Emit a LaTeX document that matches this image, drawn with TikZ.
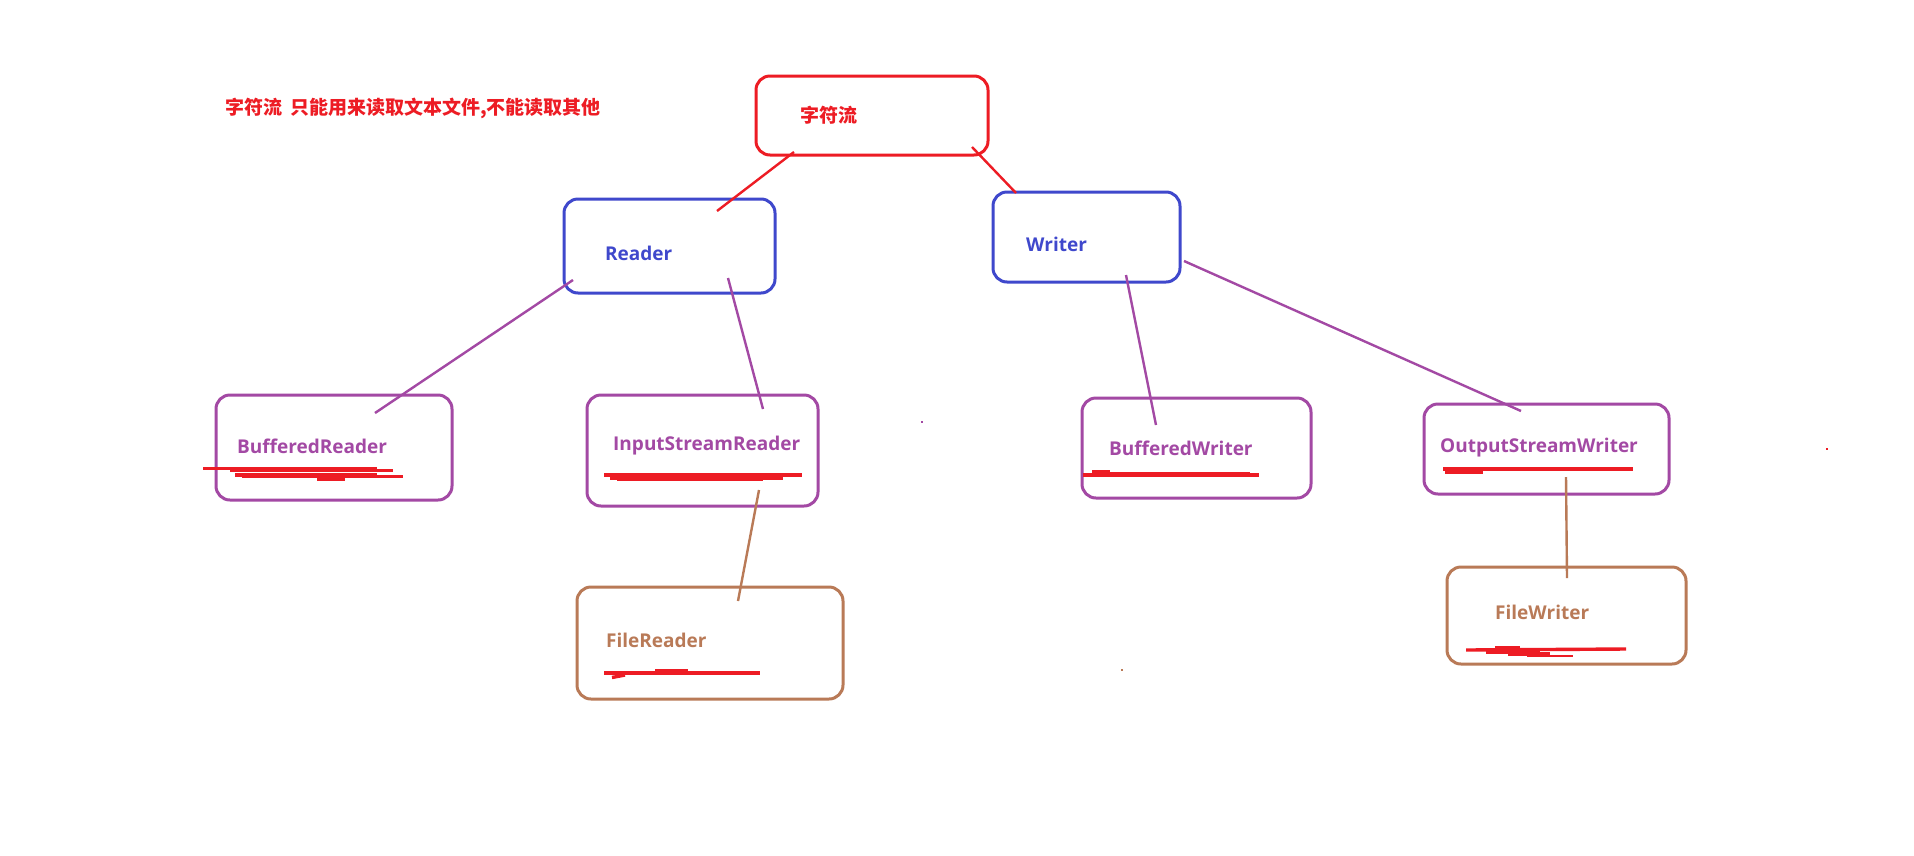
\documentclass[tikz,border=0pt]{standalone}
\usepackage{fontspec}
\setmainfont{Open Sans}
\newfontfamily\cjk{Noto Sans CJK SC}
\definecolor{pred}{HTML}{ED1C24}
\definecolor{pblue}{HTML}{3F48CC}
\definecolor{ppurple}{HTML}{A349A4}
\definecolor{pbrown}{HTML}{B97A57}
\begin{document}
\begin{tikzpicture}[x=1pt,y=-1pt,
  box/.style={draw, rounded corners=14pt, line width=3pt, inner sep=0pt, outer sep=0pt, anchor=north west},
  lbl/.style={inner sep=0pt, anchor=base west, font=\fontsize{19}{19}\selectfont\bfseries},
  conn/.style={line width=2.4pt},
  scrib/.style={pred, line width=3.4pt},
  dotmark/.style={inner sep=0pt, minimum size=2.5pt, shape=rectangle}]
\useasboundingbox[fill=white] (0,0) rectangle (1914,855);

% boxes
\node[box, draw=pred, minimum width=232pt, minimum height=79pt] (root) at (756,76) {};
\node[box, draw=pblue, minimum width=211pt, minimum height=94pt] (reader) at (564,199) {};
\node[box, draw=pblue, minimum width=187pt, minimum height=90pt] (writer) at (993,192) {};
\node[box, draw=ppurple, minimum width=236pt, minimum height=105pt] (bufr) at (216,395) {};
\node[box, draw=ppurple, minimum width=231pt, minimum height=111pt] (isr) at (587,395) {};
\node[box, draw=ppurple, minimum width=229pt, minimum height=100pt] (bufw) at (1082,398) {};
\node[box, draw=ppurple, minimum width=245pt, minimum height=90pt] (osw) at (1424,404) {};
\node[box, draw=pbrown, minimum width=266pt, minimum height=112pt] (fr) at (577,587) {};
\node[box, draw=pbrown, minimum width=239pt, minimum height=97pt] (fw) at (1447,567) {};

% texts
\node[inner sep=0pt, anchor=center, text=pred, font=\cjk\fontsize{19}{19}\selectfont\bfseries] (troot) at (828.5,115.5) {字符流};
\node[inner sep=0pt, anchor=west, text=pred, font=\cjk\fontsize{19}{19}\selectfont\bfseries] (note) at (225,108) {字符流\hspace{8pt}只能用来读取文本文件,不能读取其他};
\node[lbl, text=pblue] (treader) at (605,260) {Reader};
\node[lbl, text=pblue] (twriter) at (1026,251) {Writer};
\node[lbl, text=ppurple] (tbufr) at (237,453) {BufferedReader};
\node[lbl, text=ppurple] (tisr) at (613,450) {InputStreamReader};
\node[lbl, text=ppurple] (tbufw) at (1109,455) {BufferedWriter};
\node[lbl, text=ppurple] (tosw) at (1440,452) {OutputStreamWriter};
\node[lbl, text=pbrown] (tfr) at (606,647) {FileReader};
\node[lbl, text=pbrown] (tfw) at (1495,619) {FileWriter};

% connector end points
\coordinate (r1) at (794,152); \coordinate (r2) at (717,211);
\coordinate (r3) at (972,147); \coordinate (r4) at (1016,193);
\coordinate (p1) at (573,280); \coordinate (p2) at (375,413);
\coordinate (p3) at (728,278); \coordinate (p4) at (763,409);
\coordinate (p5) at (1126,275); \coordinate (p6) at (1156,425);
\coordinate (p7) at (1184,261); \coordinate (p8) at (1521,411);
\coordinate (b1) at (759,490); \coordinate (b2) at (738,601);
\coordinate (b3) at (1566,477); \coordinate (b4) at (1567,578);

\draw[conn, pred] (r1) -- (r2);
\draw[conn, pred] (r3) -- (r4);
\draw[conn, ppurple] (p1) -- (p2);
\draw[conn, ppurple] (p3) -- (p4);
\draw[conn, ppurple] (p5) -- (p6);
\draw[conn, ppurple] (p7) -- (p8);
\draw[conn, pbrown] (b1) -- (b2);
\draw[conn, pbrown] (b3) -- (b4);

% red scribbled underlines
\draw[scrib] (203,468.3) -- (377,468.3);
\draw[scrib] (230,470.5) -- (393,470.5);
\draw[scrib] (235,475) -- (377,475);
\draw[scrib] (242,476.7) -- (403,476.7);
\draw[scrib] (317,479) -- (345,479);

\draw[scrib] (604,475) -- (802,475);
\draw[scrib] (610,478) -- (783,478);
\draw[scrib] (617,479.5) -- (763,479.5);

\draw[scrib] (1083,475) -- (1259,475);
\draw[scrib] (1092,472) -- (1110,472);
\draw[scrib] (1097,473.5) -- (1250,473.5);

\draw[scrib] (1443,469) -- (1633,469);
\draw[scrib] (1445,472) -- (1483,472);

\draw[scrib] (604,673) -- (760,673);
\draw[scrib] (655,670.5) -- (688,670.5);
\draw[scrib] (612,677.5) -- (625,675);

\draw[scrib] (1466,650) -- (1626,649);
\draw[scrib] (1495,647.5) -- (1520,647.5);
\draw[scrib] (1486,652) -- (1540,652);
\draw[scrib] (1508,654) -- (1550,654);
\draw[scrib, line width=2pt] (1527,655.5) -- (1573,655.5);

% stray dots
\node[dotmark, fill=ppurple] (d1) at (922,422) {};
\node[dotmark, fill=pred] (d2) at (1827,449) {};
\node[dotmark, fill=pbrown] (d3) at (1122,670) {};
\end{tikzpicture}
\end{document}
